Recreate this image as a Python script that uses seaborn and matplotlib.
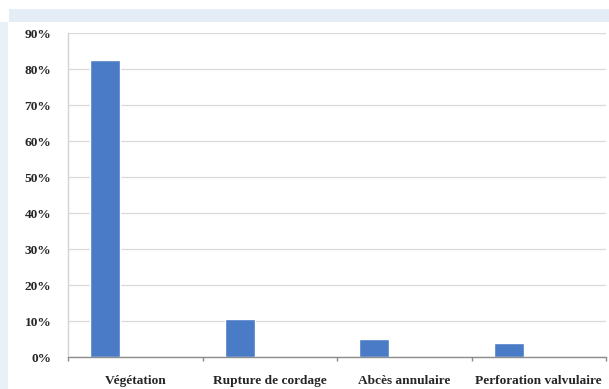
import matplotlib
matplotlib.use("Agg")
import matplotlib.pyplot as plt
from matplotlib.patches import Rectangle
from matplotlib.ticker import FixedLocator, FuncFormatter
import pandas as pd
import seaborn as sns

# Lésions observées (pourcentage des cas)
categories = ["Végétation", "Rupture de cordage", "Abcès annulaire", "Perforation valvulaire"]
values = [82.5, 10.6, 5.0, 3.9]
series_levels = ["Série 1", "Série 2", "Série 3"]
y_ticks = [0, 10, 20, 30, 40, 50, 60, 70, 80, 90]

df = pd.DataFrame({"lesion": categories, "pct": values, "serie": series_levels[0]})

sns.set_theme(style="white")
plt.rcParams["font.family"] = ["Liberation Serif", "DejaVu Serif"]

W, H = 609, 389
fig = plt.figure(figsize=(W / 100, H / 100), dpi=100)
fig.patch.set_facecolor("white")

# light frame around the chart area
fig.add_artist(Rectangle((9 / W, 1 - 22 / H), 1 - 9 / W, 13 / H,
                         transform=fig.transFigure, facecolor="#e4ecf5",
                         edgecolor="none", zorder=0))
fig.add_artist(Rectangle((0, 0), 8 / W, 1 - 22 / H,
                         transform=fig.transFigure, facecolor="#e9f0f8",
                         edgecolor="none", zorder=0))

left, right = 68 / W, 606 / W
bottom, top = 1 - 357 / H, 1 - 33 / H
ax = fig.add_axes([left, bottom, right - left, top - bottom])
ax.set_facecolor("white")

sns.barplot(data=df, x="lesion", y="pct", hue="serie", hue_order=series_levels,
            order=categories, palette=["#4a7bc6", "#4a7bc6", "#4a7bc6"],
            width=0.668, dodge=True, legend=False, ax=ax, saturation=1)

ax.set_xlim(-0.5, len(categories) - 0.5)
ax.set_ylim(0, 90)
ax.yaxis.set_major_locator(FixedLocator(y_ticks))
ax.yaxis.set_major_formatter(FuncFormatter(lambda v, p: f"{int(v)}%"))
ax.grid(axis="y", color="#dadada", linewidth=0.9)
ax.set_axisbelow(True)

for s in ["top", "right"]:
    ax.spines[s].set_visible(False)
ax.spines["left"].set_color("#d2d2d2")
ax.spines["left"].set_linewidth(1.0)
ax.spines["bottom"].set_color("#8c8c8c")
ax.spines["bottom"].set_linewidth(1.0)

ax.set_xlabel("")
ax.set_ylabel("")
ax.tick_params(axis="x", which="major", length=0, pad=13, labelsize=9.6)
ax.set_xticks(range(len(categories)))
ax.set_xticklabels(categories, fontweight="bold")
ax.set_xticks([i - 0.5 for i in range(len(categories) + 1)], minor=True)
ax.tick_params(axis="x", which="minor", length=3, color="#8c8c8c", bottom=True)
ax.tick_params(axis="y", length=0, pad=12, labelsize=9.6)
for t in ax.get_yticklabels():
    t.set_fontweight("bold")

fig.savefig("out.png", dpi=100)
